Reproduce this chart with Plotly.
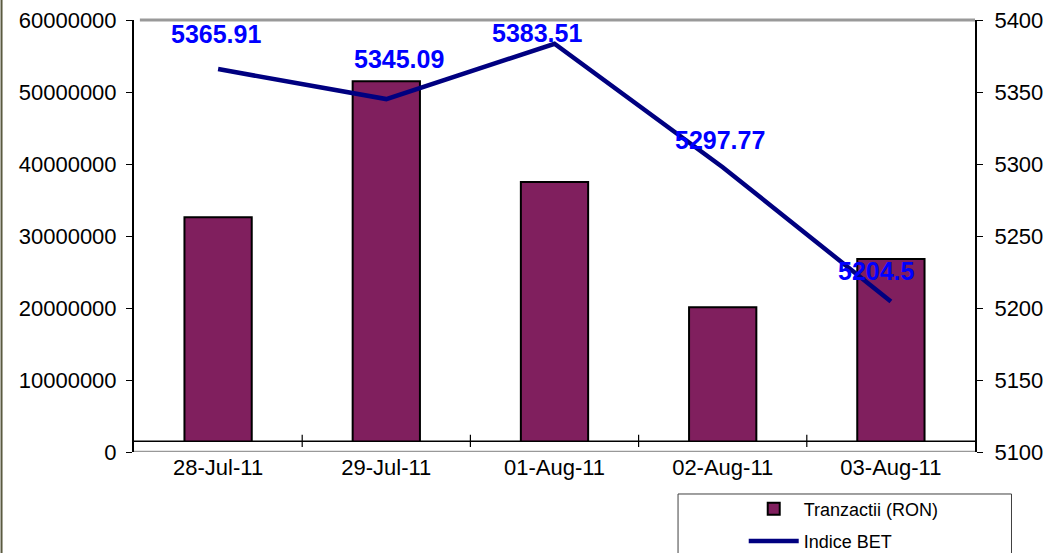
import plotly.graph_objects as go

categories = ["28-Jul-11", "29-Jul-11", "01-Aug-11", "02-Aug-11", "03-Aug-11"]
tranzactii = [32600000, 51500000, 37500000, 20100000, 26800000]
indice_bet = [5365.91, 5345.09, 5383.51, 5297.77, 5204.5]
label_texts = ["5365.91", "5345.09", "5383.51", "5297.77", "5204.5"]
# label offsets in pixels (style only)
label_dx = [-2, 13, -18, -3, -14]
label_dy = [35, 40, 11, 27, 31]

FONT = "Liberation Sans, Arial, sans-serif"

fig = go.Figure()
fig.add_trace(go.Bar(
    x=categories, y=tranzactii, name="Tranzactii (RON)", legendgroup="a",
    marker=dict(color="#801F5E", line=dict(color="black", width=2)),
    width=0.4, yaxis="y",
))
fig.add_trace(go.Scatter(
    x=categories, y=indice_bet, name="Indice BET", mode="lines", legendgroup="b",
    line=dict(color="#000080", width=4.5), yaxis="y2",
))

for c, v, t, dx, dy in zip(categories, indice_bet, label_texts, label_dx, label_dy):
    fig.add_annotation(x=c, y=v, yref="y2", text=t, showarrow=False,
                       xshift=dx, yshift=dy,
                       font=dict(family=FONT, size=25, color="#0000FF", weight="bold"))

shapes = [
    # floor cover and front edge
    dict(type="rect", xref="paper", yref="y", x0=0.002, x1=0.998, y0=0, y1=1.5e6,
         fillcolor="white", line=dict(width=0), layer="above"),
    dict(type="line", xref="paper", yref="y", x0=0, x1=1, y0=1.5e6, y1=1.5e6,
         line=dict(color="black", width=1.5), layer="above"),
    dict(type="line", xref="paper", yref="y", x0=0, x1=1, y0=0, y1=0,
         line=dict(color="#999999", width=2.5), layer="above"),
    # top wall edge
    dict(type="line", xref="paper", yref="paper", x0=0.007, x1=1, y0=1, y1=1,
         line=dict(color="#999999", width=3), layer="below"),
    # outer chart border at left
    dict(type="line", xref="paper", yref="paper", x0=-0.1575, x1=-0.1575, y0=-0.3, y1=1.1,
         line=dict(color="#5a5a40", width=2)),
    # legend box
    dict(type="rect", xref="paper", yref="paper", x0=0.6469, x1=1.0434, y0=-0.0972, y1=-0.3,
         fillcolor="white", line=dict(color="#404040", width=1), layer="below"),
]
# category boundary ticks on floor line
for i in range(len(categories) - 1):
    shapes.append(dict(type="line", xref="x", yref="y", x0=i + 0.5, x1=i + 0.5,
                       y0=0.7e6, y1=2.4e6, line=dict(color="black", width=1.2), layer="above"))

fig.update_layout(
    width=1046, height=553,
    margin=dict(l=134, r=71, t=20, b=101, autoexpand=False),
    paper_bgcolor="white", plot_bgcolor="white",
    font=dict(family=FONT, size=22, color="black"),
    bargap=0.6,
    showlegend=True,
    legend=dict(x=0.725, y=-0.089, xanchor="left", yanchor="top",
                bgcolor="rgba(0,0,0,0)", borderwidth=0,
                font=dict(family=FONT, size=18, color="black"),
                traceorder="grouped", tracegroupgap=6, itemwidth=50),
    xaxis=dict(showgrid=False, showline=False, ticks="", zeroline=False,
               tickfont=dict(size=22), automargin=False),
    yaxis=dict(range=[0, 60e6], dtick=10e6, tickformat="d", showgrid=False,
               showline=True, linecolor="black", linewidth=2,
               ticks="outside", ticklen=6, tickcolor="black", zeroline=False,
               ticklabelstandoff=5, automargin=False),
    yaxis2=dict(range=[5100, 5400], dtick=50, overlaying="y", side="right",
                showgrid=False, showline=True, linecolor="black", linewidth=2,
                ticks="outside", ticklen=6, tickcolor="black", zeroline=False,
                ticklabelstandoff=7, automargin=False),
    shapes=shapes,
)

fig.write_html("out.html", config={"displayModeBar": False},
               post_script="document.body.style.margin='0';document.body.style.padding='0';")
